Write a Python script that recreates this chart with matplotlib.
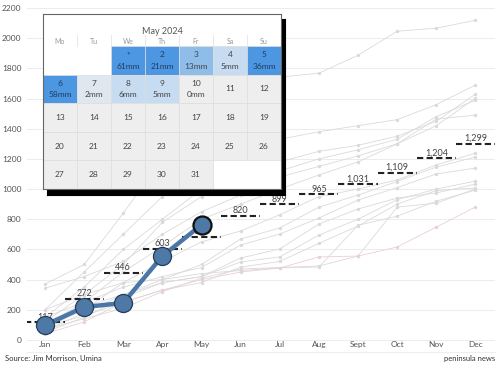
import matplotlib.pyplot as plt
from matplotlib.patches import Rectangle

plt.rcParams['font.family'] = ['Lato', 'DejaVu Sans']

months = ["Jan", "Feb", "Mar", "Apr", "May", "Jun", "Jul", "Aug", "Sept", "Oct", "Nov", "Dec"]

# cumulative rainfall of past years (grey lines)
pastYears = [
	[370, 500, 840, 1200, 1450, 1650, 1742, 1768, 1887, 2046, 2066, 2119],
	[200, 450, 700, 950, 1150, 1250, 1330, 1380, 1420, 1460, 1560, 1689],
	[150, 350, 600, 800, 1000, 1100, 1180, 1250, 1290, 1350, 1450, 1629],
	[343, 420, 520, 700, 850, 960, 1080, 1150, 1220, 1300, 1420, 1603],
	[120, 300, 500, 780, 950, 1050, 1120, 1200, 1260, 1330, 1480, 1589],
	[100, 250, 450, 620, 800, 900, 1000, 1093, 1180, 1300, 1464, 1490],
	[80, 200, 380, 520, 650, 722, 830, 950, 1000, 1060, 1160, 1238],
	[60, 180, 300, 400, 500, 669, 742, 880, 960, 1050, 1146, 1212],
	[150, 250, 350, 420, 480, 629, 702, 808, 927, 1010, 1100, 1139],
	[50, 150, 280, 380, 420, 517, 550, 695, 800, 930, 1000, 1053],
	[120, 220, 300, 380, 420, 543, 603, 768, 868, 940, 974, 1033],
	[90, 160, 250, 330, 380, 483, 520, 640, 755, 900, 990, 1007],
	[70, 140, 210, 320, 410, 470, 480, 490, 556, 880, 907, 1000],
	[200, 300, 380, 400, 440, 460, 477, 483, 760, 820, 920, 993],
]
pinkYear = [40, 120, 250, 330, 400, 450, 477, 550, 556, 616, 748, 881]

thisYear = [97, 218, 245, 556, 763]
averages = [117, 272, 446, 603, 683, 820, 899, 965, 1031, 1109, 1204, 1299]

# calendar for May 2024
calDays = ["Mo", "Tu", "We", "Th", "Fr", "Sa", "Su"]
calDates = list(range(1, 32))
calRain = ["61mm", "21mm", "13mm", "5mm", "36mm", "58mm", "2mm", "6mm", "5mm", "0mm"]
calColors = ["#4d97e2", "#4d97e2", "#8fbdea", "#c7dcf1", "#4d97e2", "#4d97e2",
	"#dfe7f0", "#c7dcf1", "#c7dcf1", "#eeeeee"]

W, H = 500, 365
fig = plt.figure(figsize=(5, 3.65), dpi=100)

def px(x0, y0, x1, y1):
	return [x0 / W, 1 - y1 / H, (x1 - x0) / W, (y1 - y0) / H]

ax = fig.add_axes(px(27, 0, 495, 352))
x = list(range(12))

for y in pastYears:
	ax.plot(x, y, color='#dadada', lw=0.6, marker='o', ms=1.4, zorder=1)
ax.plot(x, pinkYear, color='#ebd0d0', lw=0.6, marker='o', ms=1.4, zorder=1)

for i, a in enumerate(averages):
	ax.plot([i - 0.5, i + 0.5], [a, a], color='#222222', lw=1.5, ls=(0, (3, 1.6)), zorder=3)
	ax.text(i, a + 5, f"{a:,}", ha='center', va='bottom', fontsize=6.5, color='#444444', zorder=3)

ax.plot(range(len(thisYear)), thisYear, color='#4a76a8', lw=3.2, zorder=4)
ax.plot(range(len(thisYear) - 1), thisYear[:-1], ls='none', marker='o', ms=13,
	mfc='#4e79a7', mec='#223d5c', mew=0.9, zorder=5, clip_on=False)
ax.plot([len(thisYear) - 1], thisYear[-1:], ls='none', marker='o', ms=13,
	mfc='#4e79a7', mec='#111111', mew=1.6, zorder=5, clip_on=False)

ax.set_xlim(-0.46, 11.5)
ax.set_ylim(-80, 2253)
ax.set_xticks(x)
ax.set_xticklabels(months)
ax.set_yticks(range(0, 2201, 200))
ax.tick_params(axis='x', length=0, pad=-8, labelsize=6, labelcolor='#555555')
ax.tick_params(axis='y', length=0, pad=4, labelsize=6, labelcolor='#555555')
for t in ax.get_xticklabels():
	t.set_zorder(6)
ax.grid(axis='y', color='#ececec', lw=0.7)
ax.set_axisbelow(True)
for s in ax.spines.values():
	s.set_visible(False)
ax.spines['bottom'].set_visible(True)
ax.spines['bottom'].set_color('#eeeeee')

# calendar shadow and box
sh = fig.add_axes(px(47, 19, 285, 195))
sh.set_facecolor('black')
sh.set_xticks([])
sh.set_yticks([])

cal = fig.add_axes(px(43, 14, 281, 189))
cal.set_xlim(0, 238)
cal.set_ylim(175, 0)
cal.set_xticks([])
cal.set_yticks([])
for s in cal.spines.values():
	s.set_color('#666666')
	s.set_linewidth(0.8)

cw, ch, top = 34, 28.6, 32
cal.text(119, 17, "May 2024", ha='center', va='center', fontsize=6.5, color='#555555')
for c, d in enumerate(calDays):
	cal.text(c * cw + cw / 2, 27, d, ha='center', va='center', fontsize=5, color='#999999')
	if c > 0:
		cal.plot([c * cw, c * cw], [21, top], color='#e4e4e4', lw=0.6)

for n in calDates:
	pos = n + 1
	r, c = divmod(pos, 7)
	x0, y0 = c * cw, top + r * ch
	fc = calColors[n - 1] if n <= len(calColors) else '#eeeeee'
	cal.add_patch(Rectangle((x0, y0), cw, ch, facecolor=fc, edgecolor='#dddddd', lw=0.5))
	label = "*" if n == 1 else str(n)
	tc = '#1f3b5c' if fc == '#4d97e2' else '#444444'
	if n <= len(calRain):
		cal.text(x0 + cw / 2, y0 + ch * 0.3, label, ha='center', va='center', fontsize=6, color=tc)
		cal.text(x0 + cw / 2, y0 + ch * 0.7, calRain[n - 1], ha='center', va='center', fontsize=6, color=tc)
	else:
		cal.text(x0 + cw / 2, y0 + ch / 2, label, ha='center', va='center', fontsize=6, color=tc)

fig.text(5 / W, 1 - 358 / H, "Source: Jim Morrison, Umina", fontsize=5.5, color='#333333', va='center')
fig.text(495 / W, 1 - 358 / H, "peninsula news", fontsize=5.5, color='#333333', va='center', ha='right')

fig.savefig('out.png', dpi=100)
